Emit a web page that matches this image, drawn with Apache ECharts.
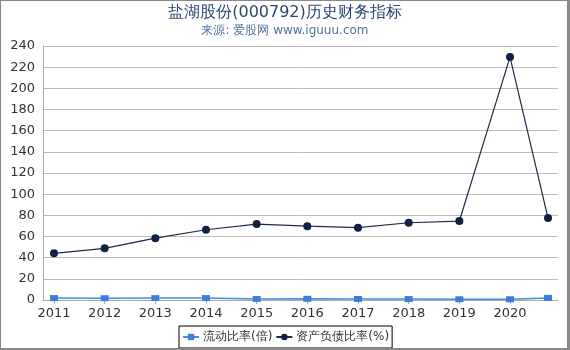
<!DOCTYPE html>
<html><head><meta charset="utf-8">
<script src="https://cdn.jsdelivr.net/npm/echarts@6/dist/echarts.min.js"></script>
<style>
html,body{margin:0;padding:0;background:#fff;}
#wrap{position:relative;width:570px;height:350px;}
#c{position:absolute;left:0;top:0;width:570px;height:350px;}
#frame{position:absolute;left:0;top:0;width:570px;height:350px;box-sizing:border-box;border-left:1px solid #888;border-top:1px solid #888;border-right:3px solid #888;border-bottom:2px solid #888;pointer-events:none;}
</style></head>
<body><div id="wrap"><div id="c"></div><div id="frame"></div></div>
<script>
var xPositions = [2011, 2012, 2013, 2014, 2015, 2016, 2017, 2018, 2019, 2020, 2020.75];
var xTickLabels = [2011, 2012, 2013, 2014, 2015, 2016, 2017, 2018, 2019, 2020];
var currentRatio = [1.8, 1.7, 1.8, 1.8, 1.0, 1.1, 1.0, 0.9, 0.7, 0.7, 2.0];
var debtRatio = [44.1, 48.8, 58.4, 66.4, 71.7, 69.8, 68.3, 73.0, 74.6, 229.5, 77.4];
var seriesNames = ['流动比率(倍)', '资产负债比率(%)'];

function pairs(xs, ys){ return xs.map(function(x,i){ return [x, ys[i]]; }); }

var chart = echarts.init(document.getElementById('c'));
chart.setOption({
  animation: false,
  title: {
    text: '盐湖股份(000792)历史财务指标',
    subtext: '来源: 爱股网 www.iguuu.com',
    left: 'center', top: 0,
    itemGap: 4,
    textStyle: {fontSize: 16, fontWeight: 'normal', color: '#2c4870', fontFamily: 'DejaVu Sans'},
    subtextStyle: {fontSize: 12, color: '#4f72a0', fontFamily: 'DejaVu Sans'}
  },
  legend: {
    bottom: 2, left: 179,
    data: seriesNames,
    borderColor: '#000', borderWidth: 1, borderRadius: 0,
    padding: [5, 3], itemGap: 3, itemWidth: 16, itemHeight: 8,
    textStyle: {fontSize: 12, color: '#333', fontFamily: 'DejaVu Sans', padding: [0,0,0,-1]}
  },
  grid: {left: 43, right: 12, top: 46, bottom: 50, containLabel: false},
  xAxis: {
    type: 'value', min: 2010.783, max: 2020.947,
    axisLine: {show: true, lineStyle: {color: '#aaa'}},
    axisTick: {show: true, customValues: xTickLabels, length: 4, lineStyle: {color: '#aaa'}},
    axisLabel: {customValues: xTickLabels, color: '#333', fontSize: 13, fontFamily: 'DejaVu Sans', margin: 7, formatter: function(v){return String(Math.round(v));}},
    splitLine: {show: false}
  },
  yAxis: {
    type: 'value', min: 0, max: 240, interval: 20,
    axisLine: {show: true, lineStyle: {color: '#aaa'}},
    axisTick: {show: false},
    axisLabel: {color: '#333', fontSize: 13, fontFamily: 'DejaVu Sans', margin: 8},
    splitLine: {lineStyle: {color: '#bbb'}}
  },
  series: [
    {
      name: seriesNames[0], type: 'line', data: pairs(xPositions, currentRatio),
      symbol: 'rect', symbolSize: [8, 6],
      itemStyle: {color: '#3a7fd8'},
      lineStyle: {color: '#4a8ae0', width: 1.5}
    },
    {
      name: seriesNames[1], type: 'line', data: pairs(xPositions, debtRatio),
      symbol: 'circle', symbolSize: 8,
      itemStyle: {color: '#0f2341'},
      lineStyle: {color: '#1c2c45', width: 1.2}
    }
  ]
});
</script></body></html>
